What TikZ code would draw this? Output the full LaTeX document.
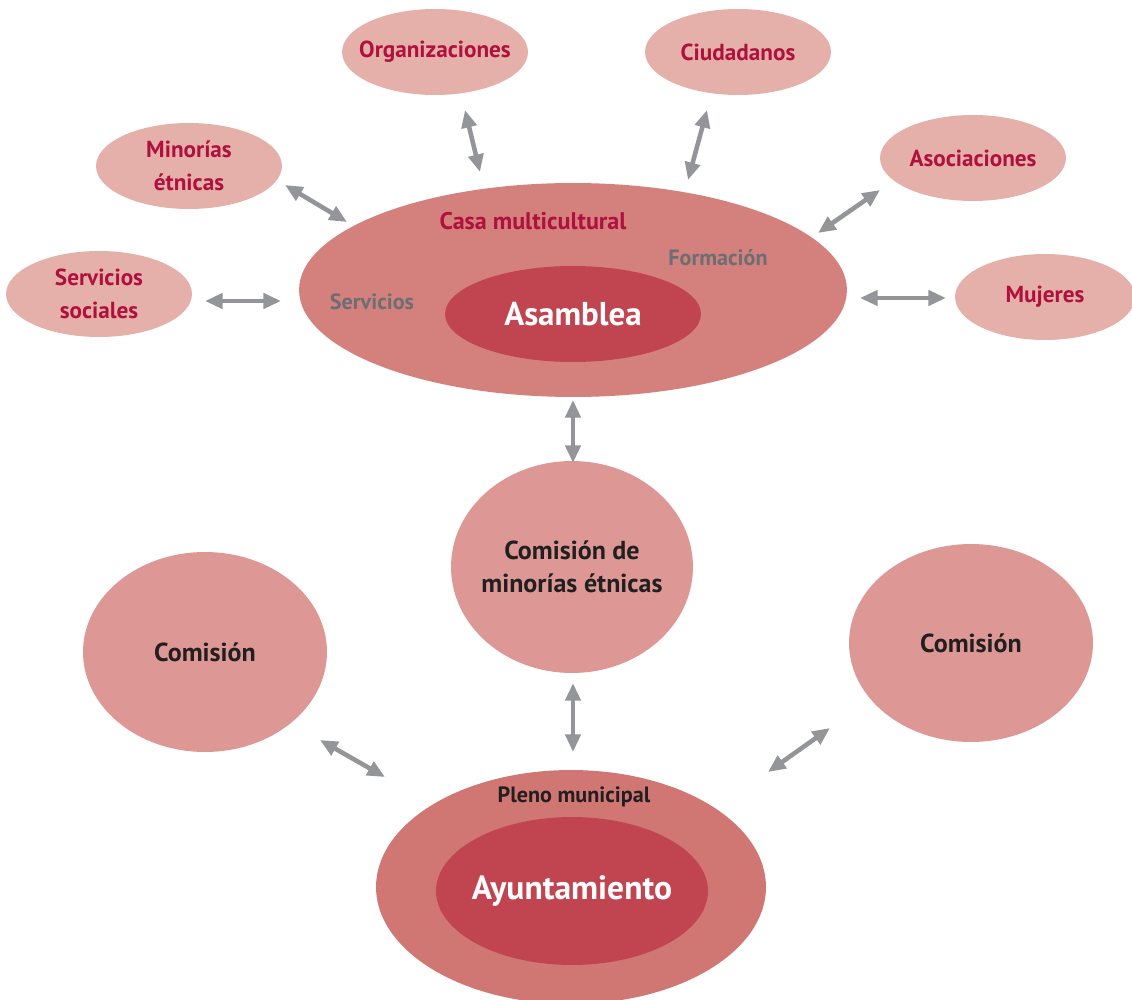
\documentclass[tikz,border=0pt]{standalone}
\usepackage{fontspec}
\setmainfont{PT Sans}
\usetikzlibrary{shapes.geometric,arrows.meta}
\definecolor{petal}{HTML}{E6B0AA}
\definecolor{casa}{HTML}{D4817E}
\definecolor{core}{HTML}{C14550}
\definecolor{comfill}{HTML}{DD9896}
\definecolor{pleno}{HTML}{D07774}
\definecolor{crimson}{HTML}{B0103C}
\definecolor{greytxt}{HTML}{6D6E71}
\definecolor{arrowgrey}{HTML}{939598}
\definecolor{darktxt}{HTML}{231F20}
\tikzset{
  % filled ellipse; the caption is laid over it as a centred label
  blob/.style={ellipse, inner sep=0pt, draw=none},
  caption/.style={inner sep=0pt, align=center},
  petaltxt/.style={caption, text=crimson, font=\bfseries\fontsize{13.2}{18.5}\selectfont},
  comtxt/.style={caption, text=darktxt, font=\bfseries\fontsize{14.8}{18.7}\selectfont},
  coretxt/.style={caption, text=white, font=\bfseries\fontsize{19}{22}\selectfont},
  petalbox/.style={blob, fill=petal, minimum width=3.72cm, minimum height=1.72cm,
    label={[petaltxt]center:#1}},
  combox/.style={blob, fill=comfill, label={[comtxt]center:#1}},
  link/.style={draw=arrowgrey, line width=2.6pt,
    {Triangle[length=10pt,width=8.5pt]}-{Triangle[length=10pt,width=8.5pt]}},
  tag/.style={inner sep=0pt, font=\bfseries\fontsize{12.6}{14}\selectfont}
}
\begin{document}
\begin{tikzpicture}[x=0.02cm,y=-0.02cm]
\useasboundingbox (0,0) rectangle (1132,1000);
\clip (0,0) rectangle (1132,1000);

% outer partners
\node[petalbox={Organizaciones}] (org) at (435,52) {};
\node[petalbox={Ciudadanos}] (ciu) at (738,52) {};
\node[petalbox={Minorías\\étnicas}] (min) at (189,166) {};
\node[petalbox={Asociaciones}] (aso) at (973,158) {};
\node[petalbox={Servicios\\sociales}] (ser) at (99,294) {};
\node[petalbox={Mujeres}, minimum width=3.6cm] (muj) at (1045,297) {};

% casa multicultural with the assembly inside
\node[blob, fill=casa, minimum width=10.96cm, minimum height=4.28cm] (casa) at (573,290) {};
\node[blob, fill=core, minimum width=5.12cm, minimum height=1.92cm,
  label={[coretxt, font=\bfseries\fontsize{18.8}{22}\selectfont]center:Asamblea}] (asam) at (573,314) {};
\node[tag, text=crimson, font=\bfseries\fontsize{13.7}{15}\selectfont] (casalbl) at (533,221) {Casa multicultural};
\node[tag, text=greytxt] (form) at (718,258) {Formación};
\node[tag, text=greytxt] (serv) at (372,302) {Servicios};

% commissions
\node[combox={Comisión de\\minorías étnicas}, minimum width=4.84cm, minimum height=4.24cm] (cme) at (572,567) {};
\node[combox={Comisión}, minimum width=4.88cm, minimum height=4.0cm] (coml) at (205,652) {};
\node[combox={Comisión}, minimum width=4.88cm, minimum height=3.96cm] (comr) at (971,643) {};

% plenary and city council
\node[blob, fill=pleno, minimum width=7.8cm, minimum height=4.68cm] (pleno) at (571,887) {};
\node[blob, fill=core, minimum width=5.44cm, minimum height=2.96cm,
  label={[coretxt, font=\bfseries\fontsize{19.1}{22}\selectfont]center:Ayuntamiento}] (ayto) at (572,891) {};
\node[tag, text=darktxt] (plenolbl) at (574,797) {Pleno municipal};

% arrow end points
\coordinate (o1) at (465,110); \coordinate (o2) at (480,172);
\coordinate (c1) at (707,110); \coordinate (c2) at (688,180);
\coordinate (m1) at (285,185); \coordinate (m2) at (347,222);
\coordinate (a1) at (880,190); \coordinate (a2) at (818,233);
\coordinate (s1) at (205,301); \coordinate (s2) at (281,301);
\coordinate (u1) at (860,298); \coordinate (u2) at (946,298);
\coordinate (k1) at (573,400); \coordinate (k2) at (573,463);
\coordinate (p1) at (573,683); \coordinate (p2) at (573,752);
\coordinate (l1) at (320,740); \coordinate (l2) at (385,777);
\coordinate (r1) at (830,728); \coordinate (r2) at (768,772);

\draw[link] (o1) -- (o2);
\draw[link] (c1) -- (c2);
\draw[link] (m1) -- (m2);
\draw[link] (a1) -- (a2);
\draw[link] (s1) -- (s2);
\draw[link] (u1) -- (u2);
\draw[link] (k1) -- (k2);
\draw[link] (p1) -- (p2);
\draw[link] (l1) -- (l2);
\draw[link] (r1) -- (r2);
\end{tikzpicture}
\end{document}
